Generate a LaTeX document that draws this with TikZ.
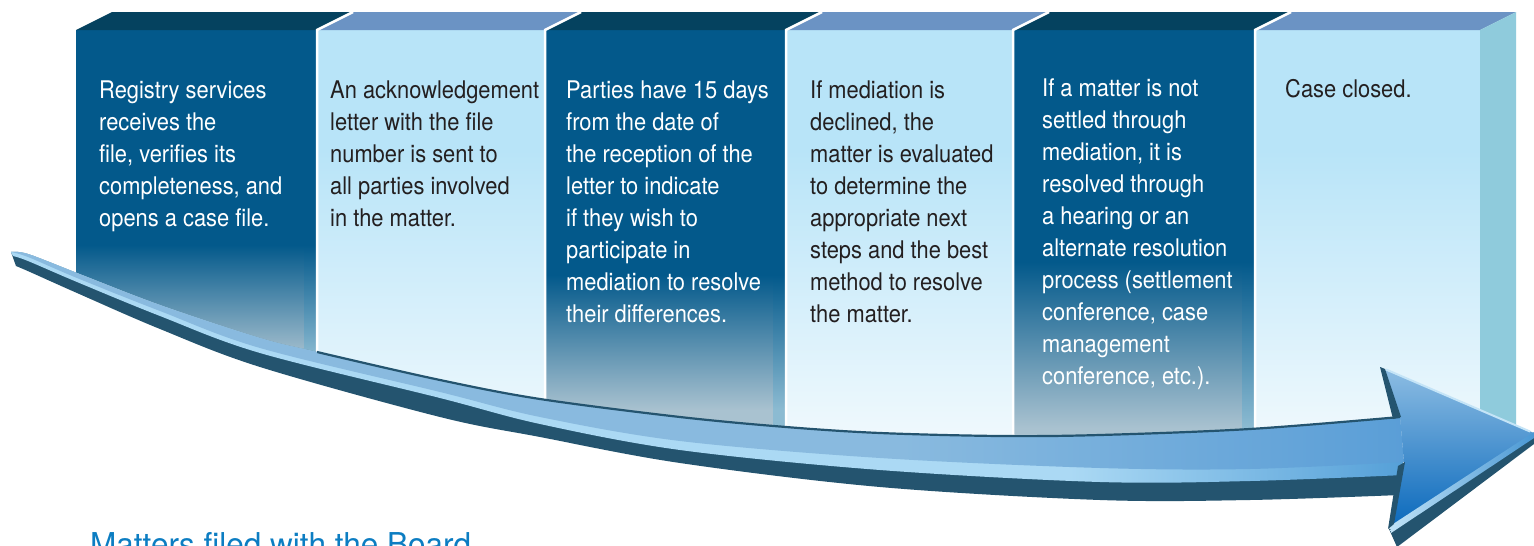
\documentclass[tikz,border=0pt]{standalone}
\usepackage{fontspec}
\setmainfont{TeX Gyre Heros}[FakeStretch=0.9]
\newfontfamily\captionfont{TeX Gyre Heros}

\definecolor{darkface}{HTML}{03598B}
\definecolor{darkfade}{HTML}{A9C2D0}
\definecolor{stripefade}{HTML}{8CBBD2}
\definecolor{darktop}{HTML}{05425F}
\definecolor{lightface}{HTML}{B8E4F8}
\definecolor{lightfade}{HTML}{F0F9FD}
\definecolor{lighttop}{HTML}{6B93C4}
\definecolor{sideface}{HTML}{8FCBDC}
\definecolor{arrowdark}{HTML}{24546F}
\definecolor{arrowface}{HTML}{89BADF}
\definecolor{arrowfaceR}{HTML}{5A9ED7}
\definecolor{arrowhl}{HTML}{ABD9F4}
\definecolor{arrowhlR}{HTML}{55A0D8}
\definecolor{headtop}{HTML}{8DBDE3}
\definecolor{headbot}{HTML}{0A69BC}
\definecolor{inktext}{HTML}{231F20}
\definecolor{captionblue}{HTML}{0C7DC2}

% shadings along the arrow body (left to right)
\pgfdeclarehorizontalshading{bodyface}{100bp}{color(0bp)=(arrowface); color(57bp)=(arrowface); color(75bp)=(arrowfaceR); color(100bp)=(arrowfaceR)}
\pgfdeclarehorizontalshading{bodyhl}{100bp}{color(0bp)=(arrowhl); color(63bp)=(arrowhl); color(75bp)=(arrowhlR); color(100bp)=(arrowhlR)}

% dark step: x-left, x-right, fade start, fade end
\newcommand\darkpanel[4]{%
  \fill[darkface] (#1,30) rectangle (#2,{#3+0.5});
  \shade[top color=darkface, bottom color=darkfade] (#1,#3) rectangle (#2,#4);
  \fill[darkfade] (#1,{#4-0.5}) rectangle (#2,470);
  \shade[top color=darkface, bottom color=stripefade] ({#2-13},#3) rectangle ({#2-1},#4);
  \fill[stripefade] ({#2-13},{#4-0.5}) rectangle ({#2-1},470);
  \fill[darktop] (#1,30) -- (#2,30) -- ({#2+36},12) -- ({#1+36},12) -- cycle;
}
% light step: x-left, x-right
\newcommand\lightpanel[2]{%
  \fill[lightface] (#1,30) rectangle (#2,151);
  \shade[top color=lightface, bottom color=lightfade] (#1,150) rectangle (#2,440);
  \fill[lightfade] (#1,439.5) rectangle (#2,470);
  \fill[lighttop] (#1,30) -- (#2,30) -- ({#2+36},12) -- ({#1+36},12) -- cycle;
}

\begin{document}
\begin{tikzpicture}[x=1pt,y=-1pt,
  separator/.style={white, line width=2.5pt},
  darktext/.style={anchor=north west, inner sep=0pt, align=left, text=white,
    font=\fontsize{24.3}{32}\selectfont},
  lighttext/.style={darktext, text=inktext},
  arrowline/.style={arrowdark, line width=2.2pt},
  curve/.style={smooth, tension=0.55}]
\useasboundingbox (0,0) rectangle (1534,546);
\fill[white] (0,0) rectangle (1534,546);

% ---- the six steps, cut off along the top of the arrow ----
\begin{scope}
  \clip (0,0) -- (0,251) -- plot[curve] coordinates {(11,252) (28,254) (77,273) (160,305) (260,338) (317,352) (440,380) (540,399) (680,417) (786,427) (880,433) (1000,436) (1100,435) (1250,429) (1400,417)} -- (1534,440) -- (1534,0) -- cycle;
  \darkpanel{76}{317}{245}{358}
  \lightpanel{317}{545}
  \darkpanel{545}{786}{275}{410}
  \lightpanel{786}{1013}
  \darkpanel{1013}{1255}{262}{428}
  \lightpanel{1255}{1480}
  \fill[sideface] (1480,30) -- (1516,12) -- (1516,470) -- (1480,470) -- cycle;
  \foreach \sx in {317,545,786,1013,1255}
    \draw[separator] ({\sx+36},12) -- (\sx,30) -- (\sx,470);
\end{scope}

% ---- step texts ----
\node[darktext] (t1) at (99,81) {Registry services\\receives the\\file, verifies its\\completeness, and\\opens a case file.};
\node[lighttext] (t2) at (330,81) {An acknowledgement\\letter with the file\\number is sent to\\all parties involved\\in the matter.};
\node[darktext] (t3) at (566,81) {Parties have 15 days\\from the date of\\the reception of the\\letter to indicate\\if they wish to\\participate in\\mediation to resolve\\their differences.};
\node[lighttext] (t4) at (810,81) {If mediation is\\declined, the\\matter is evaluated\\to determine the\\appropriate next\\steps and the best\\method to resolve\\the matter.};
\node[darktext] (t5) at (1042,79) {If a matter is not\\settled through\\mediation, it is\\resolved through\\a hearing or an\\alternate resolution\\process (settlement\\conference, case\\management\\conference, etc.).};
\node[lighttext] (t6) at (1285,79) {Case closed.};

% ---- curved arrow body: underside, highlight strip, upper face ----
\fill[arrowdark] plot[curve] coordinates {(11,252) (28,254) (77,273) (160,305) (260,338) (317,352) (440,380) (540,399) (680,417) (786,427) (880,433) (1000,436) (1100,435) (1250,429) (1400,417)} -- plot[curve] coordinates {(1400,495) (1250,500) (1100,500) (880,487) (680,463) (540,437) (440,417) (260,367) (160,329) (77,293) (30,272) (16,266)} -- cycle;
\shade[shading=bodyhl] plot[curve] coordinates {(11,252) (28,254) (77,273) (160,305) (260,338) (317,352) (440,380) (540,399) (680,417) (786,427) (880,433) (1000,436) (1100,435) (1250,429) (1400,417)} -- plot[curve] coordinates {(1404,475) (1250,481) (1100,482) (880,470) (680,450) (540,424) (440,398) (260,353) (160,316) (77,282) (28,261) (13,256)} -- cycle;
\shade[shading=bodyface] plot[curve] coordinates {(11,252) (28,254) (77,273) (160,305) (260,338) (317,352) (440,380) (540,399) (680,417) (786,427) (880,433) (1000,436) (1100,435) (1250,429) (1400,417)} -- plot[curve] coordinates {(1404,462) (1250,469) (1100,468) (880,458) (680,441) (540,417) (440,392) (260,348) (160,311) (77,278) (28,257) (11,252)} -- cycle;
\begin{scope}
  \clip (317,0) rectangle (1534,546);
  \draw[arrowline] plot[curve] coordinates {(11,252) (28,254) (77,273) (160,305) (260,338) (317,352) (440,380) (540,399) (680,417) (786,427) (880,433) (1000,436) (1100,435) (1250,429) (1400,417)};
\end{scope}

% ---- arrow head ----
\fill[arrowdark] (1534,436) -- (1389,529) -- (1397,547) -- (1534,444) -- cycle;
\shade[top color=headtop, bottom color=headbot] (1400,417) -- (1381,368) -- (1534,433) -- (1390,527) -- (1404,463) -- cycle;
\shade[left color=white!25!arrowhl, middle color=arrowhl, right color=arrowhlR!85!headbot] (1534,432) -- (1390,526) -- (1391,533) -- (1534,438) -- cycle;
\fill[arrowdark] (1380,367) -- (1385,369) -- (1401,417) -- (1393,419) -- cycle;
\fill[arrowdark] (1398,466) -- (1405,462) -- (1394,524) -- (1388,529) -- cycle;
\draw[white!30!arrowhl, line width=2pt] (1386,369.5) -- (1530,431.5);

% ---- caption ----
\node[anchor=base west, inner sep=0pt, text=captionblue,
  font=\captionfont\fontsize{31.5}{36}\selectfont] (caption) at (90,555) {Matters filed with the Board};
\end{tikzpicture}
\end{document}
